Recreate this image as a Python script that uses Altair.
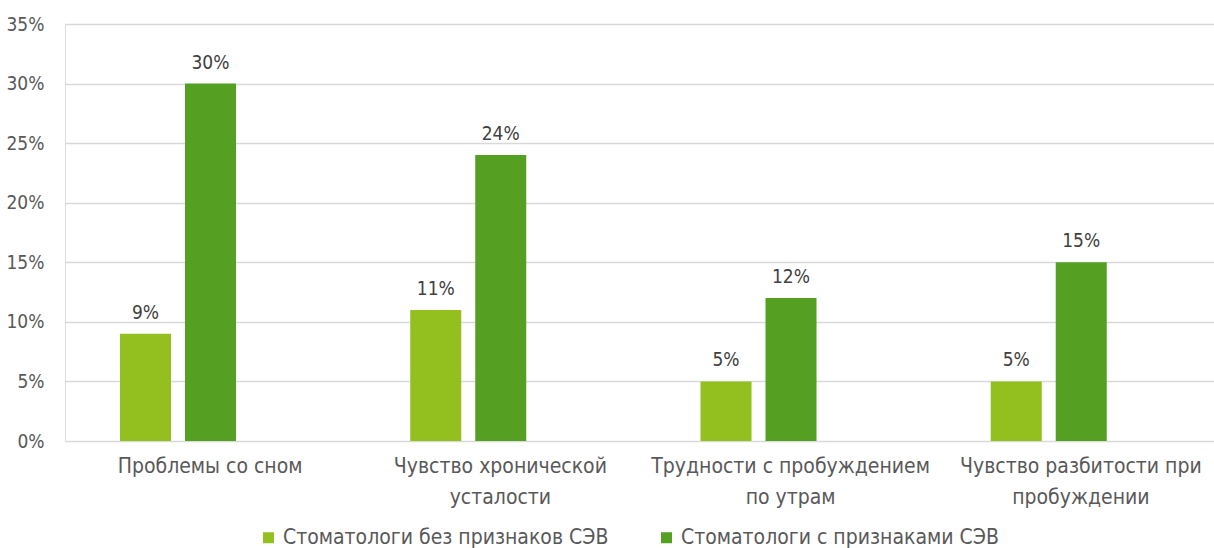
import altair as alt
import pandas as pd

# Survey results: share of dentists reporting each sleep-related complaint
categories = [
    "Проблемы со сном",
    "Чувство хронической\nусталости",
    "Трудности с пробуждением\nпо утрам",
    "Чувство разбитости при\nпробуждении",
]
series_names = [
    "Стоматологи без признаков СЭВ",
    "Стоматологи с признаками СЭВ",
]
without_signs = [9, 11, 5, 5]
with_signs = [30, 24, 12, 15]
series_colors = ["#93C01F", "#55A023"]

rows = []
for cat, a, b in zip(categories, without_signs, with_signs):
    rows.append({"category": cat, "group": series_names[0], "value": a})
    rows.append({"category": cat, "group": series_names[1], "value": b})
df = pd.DataFrame(rows)

FONT = "DejaVu Sans Condensed"
TEXT_GREY = "#595959"

x_enc = alt.X(
    "category:N",
    sort=categories,
    scale=alt.Scale(range=[0, 1161], paddingInner=0, paddingOuter=0),
    axis=alt.Axis(
        title=None,
        labelAngle=0,
        labelExpr="split(datum.value, '\\n')",
        labelFontSize=21,
        labelColor=TEXT_GREY,
        labelFont=FONT,
        labelLineHeight=31,
        labelPadding=14,
        labelLimit=0,
        ticks=False,
        domain=False,
        grid=False,
    ),
)
# bars sit in the left two thirds of each category band
x_off = alt.XOffset(
    "group:N",
    sort=series_names,
    scale=alt.Scale(range=[55, 171], paddingInner=0.215, paddingOuter=0),
)
y_enc = alt.Y(
    "value:Q",
    scale=alt.Scale(domain=[0, 35], nice=False),
    axis=alt.Axis(
        title=None,
        values=[0, 5, 10, 15, 20, 25, 30, 35],
        labelExpr="datum.value + '%'",
        labelFontSize=19,
        labelColor=TEXT_GREY,
        labelFont=FONT,
        labelPadding=21,
        ticks=False,
        domain=False,
        gridColor="#D9D9D9",
        gridWidth=1.5,
    ),
)

bars = alt.Chart(df).mark_bar().encode(
    x=x_enc,
    xOffset=x_off,
    y=y_enc,
    color=alt.Color(
        "group:N",
        sort=series_names,
        scale=alt.Scale(domain=series_names, range=series_colors),
        legend=alt.Legend(
            title=None,
            orient="none",
            direction="horizontal",
            legendX=193,
            legendY=503,
            symbolType="square",
            symbolSize=121,
            symbolStrokeWidth=0,
            labelFontSize=21,
            labelFont=FONT,
            labelColor=TEXT_GREY,
            labelOffset=4,
            labelLimit=0,
            columnPadding=47,
        ),
    ),
)

labels = alt.Chart(df).transform_calculate(
    label="datum.value + '%'"
).mark_text(
    baseline="bottom", dy=-11, fontSize=19, font=FONT, color="#404040"
).encode(
    x=alt.X("category:N", sort=categories),
    xOffset=alt.XOffset("group:N", sort=series_names),
    y=alt.Y("value:Q"),
    text="label:N",
)

chart = (
    alt.layer(bars, labels)
    .properties(
        width=1149,
        height=417,
        autosize=alt.AutoSizeParams(type="none"),
        padding={"left": 65, "top": 24, "right": 0, "bottom": 107},
    )
    .configure_view(stroke=None)
    .configure(background="white")
)

chart.save("out.html", embed_options={"renderer": "svg", "actions": False})
